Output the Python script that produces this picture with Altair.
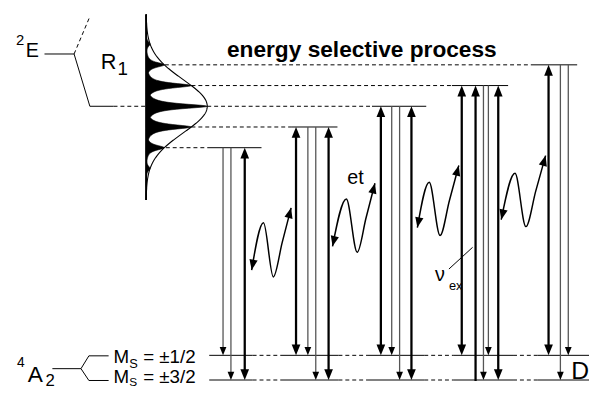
import math
import numpy as np
import pandas as pd
import altair as alt

W, H = 589, 381          # chart size (page pixels minus the 8px margin)
X0, Y0 = 8, 8

# ---------------- excited 2E (R1) sub-levels, site groups left -> right
level_y = [147, 126, 105, 84, 63]
level_solid_x0 = [210, 295, 377, 458, 538]
level_solid_x1 = [265, 342, 432, 515, 585]
level_dash_x0 = [168, 194, 210, 194, 167]

# ---------------- ground 4A2 Zeeman components
ground_y = {"half": 357.5, "three_half": 382.5}
ground_solid_x0 = [212, 284, 372, 460, 545]
ground_solid_x1 = [256, 343, 430, 520, 597]

# ---------------- vertical transitions
arrow_x = [226, 234, 248, 300, 312, 320, 333, 386, 397, 405, 417,
           468, 482, 490, 495, 505, 556, 568, 576]
arrow_group = [0, 0, 0, 1, 1, 1, 1, 2, 2, 2, 2, 3, 3, 3, 3, 3, 4, 4, 4]
arrow_kind = ["emit", "emit", "both", "both", "emit", "emit", "both",
              "both", "emit", "emit", "both",
              "both", "exc", "emit", "emit", "both",
              "both", "emit", "emit"]
arrow_to = ["half", "three_half", "three_half", "half", "half", "three_half", "three_half",
            "half", "half", "three_half", "three_half",
            "half", "three_half", "three_half", "half", "three_half",
            "half", "three_half", "half"]

# ---------------- energy-transfer (et) wavy arrows: control points
wave_x = [[255, 267, 277, 286, 295], [337, 351, 362, 371, 380],
          [423, 435, 446, 455.5, 465], [508, 522, 533, 543, 553]]
wave_y = [[271, 223, 278, 243, 208], [247, 199, 253, 218, 183],
          [228, 182, 236, 200.5, 165], [220, 173, 227, 191, 155]]

# ---------------- term-diagram connectors
term_2E_solid = [(45, 52), (75, 52), (91, 105), (115, 105)]
term_2E_dashed = [((75, 52), (91, 14)), ((115, 105), (148, 105))]
term_4A2_lines = [((53, 371), (82, 371)), ((82, 371), (90, 358)), ((90, 358), (110, 358)),
                  ((82, 371), (90, 383)), ((90, 383), (110, 383))]
nu_pointer = ((455, 270), (479, 248))

# ---------------- inhomogeneous R1 line profile
gauss_axis_x = 148
gauss_axis_y = (12, 200)
gauss_center = 105
gauss_sigma = 27
gauss_peak = 62
comp_centers = [21, 42, 63, 84, 105, 126, 147, 168, 189]
comp_gamma = 3.0

# ---------------- labels
label_text = ["2", "E", "R", "1", "energy selective process", "et", "ν", "ex",
              "4", "A", "2", "M", "S", "= ±1/2", "M", "S", "= ±3/2", "D"]
label_x = [16, 26, 102, 119, 230, 352, 441, 455, 17, 28, 46, 115, 131, 145, 115, 131, 145, 579]
label_y = [43, 55, 67, 73, 55, 184, 282, 291, 369, 385, 389, 365, 370, 365, 386, 389, 386, 381]
label_size = [15, 20, 22, 19, 23, 20, 20, 13, 14, 23, 17, 19, 13, 19, 19, 12, 19, 25]
label_bold = [False, False, False, False, True, False, False, False, False, False, False,
              False, False, False, False, False, False, False]

FONT = "Liberation Sans"

# ======================================================================
xs = alt.Scale(domain=[X0, X0 + W], nice=False, zero=False)
ys = alt.Scale(domain=[Y0, Y0 + H], nice=False, zero=False, reverse=True)


def X(f):
    return alt.X(f, type="quantitative", scale=xs, axis=None)


def Y(f):
    return alt.Y(f, type="quantitative", scale=ys, axis=None)


segs = []


def seg(p, q, style):
    segs.append(dict(x=p[0], y=p[1], x2=q[0], y2=q[1], style=style))


# excited levels
for yv, s0, s1, d0 in zip(level_y, level_solid_x0, level_solid_x1, level_dash_x0):
    seg((s0, yv), (s1, yv), "solid")
    seg((d0, yv), (s0, yv), "dash")
# ground levels
for yv in ground_y.values():
    for i, (a, b) in enumerate(zip(ground_solid_x0, ground_solid_x1)):
        seg((a, yv), (b, yv), "solid")
        if i + 1 < len(ground_solid_x0):
            seg((b, yv), (ground_solid_x0[i + 1], yv), "dash")
# term diagrams
for p, q in zip(term_2E_solid[:-1], term_2E_solid[1:]):
    seg(p, q, "solid")
for p, q in term_2E_dashed:
    seg(p, q, "dash")
for p, q in term_4A2_lines:
    seg(p, q, "solid")
seg(*nu_pointer, "solid")
seg((gauss_axis_x, gauss_axis_y[0]), (gauss_axis_x, gauss_axis_y[1]), "solid")

heads = []
DOWN = "M0,0L-0.8,-2L0.8,-2Z"
for x, g, k, t in zip(arrow_x, arrow_group, arrow_kind, arrow_to):
    top = level_y[g]
    bot = ground_y[t]
    if k == "emit":
        seg((x, top), (x, bot - 3), "thin")
        heads.append(dict(x=x, y=bot, angle=0, size=72))
    else:
        seg((x, top + 4), (x, bot - (4 if k == "both" else -1)), "thick")
        heads.append(dict(x=x, y=top, angle=180, size=121))
        if k == "both":
            heads.append(dict(x=x, y=bot, angle=0, size=121))


def ang(dx, dy):
    return (math.degrees(math.atan2(-dx, dy)) + 360) % 360


wave_rows = []
for i, (wx, wy) in enumerate(zip(wave_x, wave_y)):
    for j, (a, b) in enumerate(zip(wx, wy)):
        wave_rows.append(dict(w=i, o=j, x=a, y=b))
    heads.append(dict(x=wx[0], y=wy[0], angle=ang(wx[0] - wx[1] + 3, wy[0] - wy[1]), size=110))
    heads.append(dict(x=wx[-1], y=wy[-1], angle=ang(wx[-1] - wx[-2], wy[-1] - wy[-2]), size=110))

seg_df = pd.DataFrame(segs)
head_df = pd.DataFrame(heads)
wave_df = pd.DataFrame(wave_rows)

# line profile
yy = np.arange(gauss_axis_y[0], gauss_axis_y[1] + 0.25, 0.5)
env = gauss_peak * np.exp(-(yy - gauss_center) ** 2 / (2 * gauss_sigma ** 2))
comps = []
for c in comp_centers:
    a = gauss_peak * math.exp(-(c - gauss_center) ** 2 / (2 * gauss_sigma ** 2))
    comps.append(np.minimum(a / (1 + ((yy - c) / comp_gamma) ** 2), env))
fill = np.max(np.array(comps), axis=0)
prof_df = pd.DataFrame(dict(y=yy, x0=gauss_axis_x, xf=gauss_axis_x + fill, xe=gauss_axis_x + env))
comp_df = pd.DataFrame([dict(c=i, y=v, x=gauss_axis_x + cv[k])
                        for i, cv in enumerate(comps) for k, v in enumerate(yy)])

lab_df = pd.DataFrame(dict(t=label_text, x=label_x, y=label_y, s=label_size, b=label_bold))

base = alt.Chart(seg_df)
rule_enc = dict(x=X("x"), y=Y("y"), x2="x2", y2="y2")
solid = base.transform_filter("datum.style == 'solid'").mark_rule(color="black", strokeWidth=1).encode(**rule_enc)
dash = base.transform_filter("datum.style == 'dash'").mark_rule(color="black", strokeWidth=1, strokeDash=[4, 3]).encode(**rule_enc)
thin = base.transform_filter("datum.style == 'thin'").mark_rule(color="#555555", strokeWidth=1.3).encode(**rule_enc)
thick = base.transform_filter("datum.style == 'thick'").mark_rule(color="black", strokeWidth=2.3).encode(**rule_enc)

fill_layer = alt.Chart(prof_df).mark_area(orient="horizontal", color="black", opacity=1).encode(
    y=Y("y"), x=X("x0"), x2="xf")
comp_layer = alt.Chart(comp_df).mark_line(color="black", strokeWidth=0.6).encode(
    x=X("x"), y=Y("y"), detail="c:N", order="y:Q")
env_layer = alt.Chart(prof_df).mark_line(color="black", strokeWidth=1.1).encode(
    x=X("xe"), y=Y("y"), order="y:Q")

waves = alt.Chart(wave_df).mark_line(color="black", strokeWidth=1.5, interpolate="monotone").encode(
    x=X("x"), y=Y("y"), detail="w:N", order="o:Q")

head_layer = alt.Chart(head_df).mark_point(shape=DOWN, filled=True, color="black", opacity=1, strokeWidth=0).encode(
    x=X("x"), y=Y("y"), angle=alt.Angle("angle:Q", scale=None), size=alt.Size("size:Q", scale=None))

txt = alt.Chart(lab_df).transform_filter("!datum.b").mark_text(
    align="left", baseline="alphabetic", font=FONT, color="black").encode(
    x=X("x"), y=Y("y"), text="t:N", size=alt.Size("s:Q", scale=None))
txt_b = alt.Chart(lab_df).transform_filter("datum.b").mark_text(
    align="left", baseline="alphabetic", font=FONT, fontWeight="bold", color="black").encode(
    x=X("x"), y=Y("y"), text="t:N", size=alt.Size("s:Q", scale=None))

chart = alt.layer(
    fill_layer, comp_layer, env_layer, solid, dash, thin, thick, waves, head_layer, txt, txt_b
).properties(
    width=W, height=H, padding=0, background="white", autosize="none",
).configure_view(stroke=None)

chart.save("out.html", embed_options={"renderer": "svg", "actions": False})
